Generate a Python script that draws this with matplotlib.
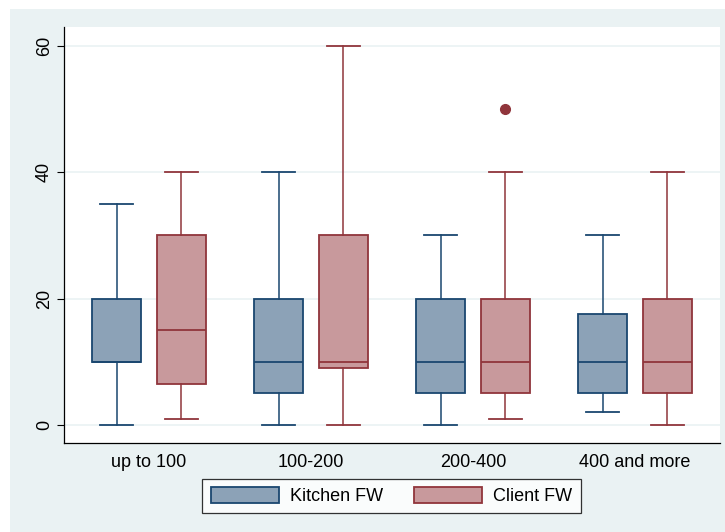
import matplotlib
matplotlib.use("Agg")
import matplotlib.pyplot as plt
from matplotlib.patches import Rectangle, Patch

categories = ["up to 100", "100-200", "200-400", "400 and more"]
series = ["Kitchen FW", "Client FW"]
# (whislo, q1, med, q3, whishi)
kitchen_stats = [(0, 10, 10, 20, 35), (0, 5, 10, 20, 40), (0, 5, 10, 20, 30), (2, 5, 10, 17.5, 30)]
client_stats = [(1, 6.5, 15, 30, 40), (0, 9, 10, 30, 60), (1, 5, 10, 20, 40), (0, 5, 10, 20, 40)]
client_outliers = [[], [], [50], []]
kitchen_outliers = [[], [], [], []]
yticks = [0, 20, 40, 60]

plt.rcParams['font.family'] = ['Liberation Sans', 'DejaVu Sans']

navy = "#1A476F"
navy_fill = "#8CA2B7"
maroon = "#90353B"
maroon_fill = "#C8999C"
bg = "#EAF2F3"

fig = plt.figure(figsize=(7.25, 5.32), dpi=100)
fig.patch.set_facecolor("white")
fig.patches.append(Rectangle((10 / 725, 0), 1, 1 - 9 / 532, transform=fig.transFigure,
                             facecolor=bg, edgecolor="none", zorder=-10))
ax = fig.add_axes([64 / 725, 1 - 443 / 532, (720 - 64) / 725, (443 - 27) / 532])
ax.set_facecolor("white")


def make_stats(stats, outs):
    res = []
    for (lo, q1, med, q3, hi), fl in zip(stats, outs):
        res.append(dict(whislo=lo, q1=q1, med=med, q3=q3, whishi=hi, fliers=fl))
    return res


off = 0.199
width = 0.302
for stats, outs, dx, ec, fc in [(kitchen_stats, kitchen_outliers, -off, navy, navy_fill),
                                (client_stats, client_outliers, off, maroon, maroon_fill)]:
    pos = [i + dx for i in range(len(categories))]
    ax.bxp(make_stats(stats, outs), positions=pos, widths=width, patch_artist=True,
           showfliers=True, manage_ticks=False,
           boxprops=dict(facecolor=fc, edgecolor=ec, linewidth=1.3),
           medianprops=dict(color=ec, linewidth=1.3),
           whiskerprops=dict(color=ec, linewidth=1.1),
           capprops=dict(color=ec, linewidth=1.3),
           capwidths=0.204,
           flierprops=dict(marker="o", markerfacecolor=ec, markeredgecolor=ec, markersize=7))

ax.set_xlim(-0.525, 3.525)
ax.set_ylim(-2.85, 63.0)
ax.set_xticks(range(len(categories)))
ax.set_xticklabels(categories, fontsize=13)
ax.tick_params(axis="x", length=0, pad=8)
ax.set_yticks(yticks)
ax.set_yticklabels([str(v) for v in yticks], fontsize=13, rotation=90, va="center")
ax.tick_params(axis="y", length=5, width=0.8, pad=3)
ax.yaxis.grid(True, color=bg, linewidth=1.2)
ax.set_axisbelow(True)
for s in ["top", "right"]:
    ax.spines[s].set_visible(False)
ax.spines["left"].set_linewidth(0.9)
ax.spines["bottom"].set_linewidth(0.9)

handles = [Patch(facecolor=navy_fill, edgecolor=navy, linewidth=1.3),
           Patch(facecolor=maroon_fill, edgecolor=maroon, linewidth=1.3)]
leg = fig.legend(handles, series, loc="center", bbox_to_anchor=(391.5 / 725, 1 - 496 / 532),
                 ncol=2, fontsize=13, frameon=True, fancybox=False, handlelength=3.8,
                 handleheight=1.05, handletextpad=0.6, columnspacing=1.7,
                 borderpad=0.45, borderaxespad=0)
leg.get_frame().set_edgecolor("black")
leg.get_frame().set_linewidth(0.9)

fig.savefig("out.png", dpi=100)
